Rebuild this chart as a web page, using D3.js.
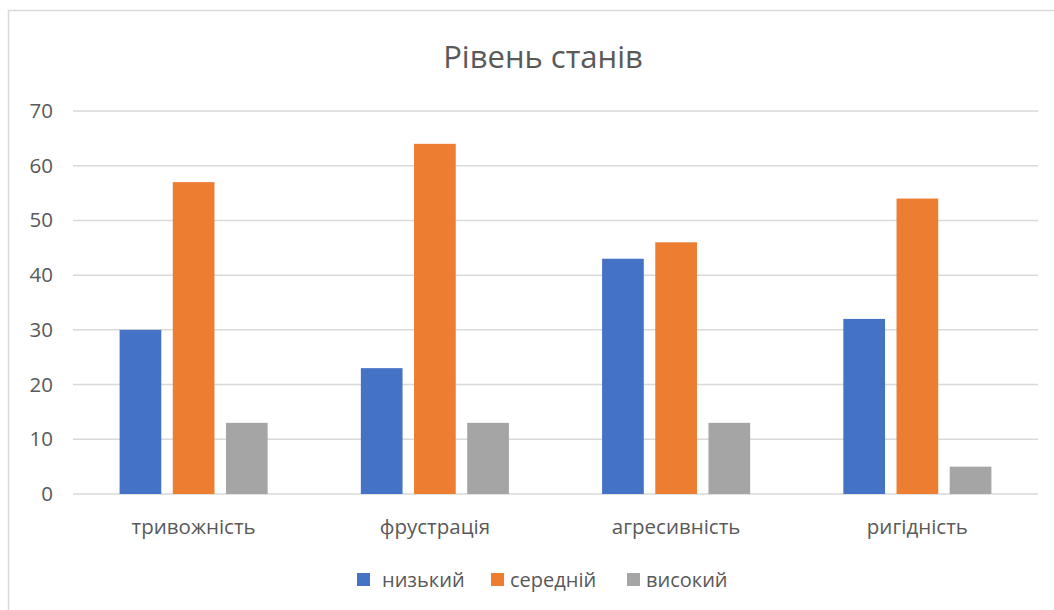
<!DOCTYPE html>
<html>
<head>
<meta charset="utf-8">
<script src="https://cdn.jsdelivr.net/npm/d3@7"></script>
<style>
  html, body { margin: 0; padding: 0; background: #ffffff; }
  svg { display: block; }
  text { font-family: "Open Sans", "Noto Sans", sans-serif; fill: #595959; }
</style>
</head>
<body>
<svg id="chart" width="1054" height="610"></svg>
<script>
// Chart data
const categories = ["тривожність", "фрустрація", "агресивність", "ригідність"];
const seriesNames = ["низький", "середній", "високий"];
const low = [30, 23, 43, 32];
const medium = [57, 64, 46, 54];
const high = [13, 13, 13, 5];
const yTicks = [0, 10, 20, 30, 40, 50, 60, 70];
const title = "Рівень станів";

const seriesValues = [low, medium, high];
const colors = ["#4472C4", "#ED7D31", "#A5A5A5"];

const svg = d3.select("#chart");
const W = 1054, H = 610;
const plot = { left: 73, right: 1038, top: 111, bottom: 494 };

// Outer chart frame
svg.append("path")
  .attr("d", `M8.5,${H} V10.5 H${W}`)
  .attr("fill", "none")
  .attr("stroke", "#d9d9d9")
  .attr("stroke-width", 1.5);

// Title
svg.append("text")
  .attr("x", 543)
  .attr("y", 68)
  .attr("text-anchor", "middle")
  .style("font-size", "31px")
  .text(title);

// Scales
const x0 = d3.scaleBand()
  .domain(categories)
  .range([plot.left, plot.right])
  .paddingInner(0)
  .paddingOuter(0);

const x1 = d3.scaleBand()
  .domain(seriesNames)
  .range([0, x0.bandwidth()])
  .paddingInner(0.216)
  .paddingOuter(0.876);

const y = d3.scaleLinear()
  .domain([0, 70])
  .range([plot.bottom, plot.top]);

// Horizontal gridlines
svg.append("g")
  .selectAll("line")
  .data(yTicks)
  .join("line")
  .attr("x1", plot.left)
  .attr("x2", plot.right)
  .attr("y1", d => y(d))
  .attr("y2", d => y(d))
  .attr("stroke", "#d9d9d9")
  .attr("stroke-width", 1.5);

// Y axis labels
const yAxis = d3.axisLeft(y).tickValues(yTicks).tickSize(0).tickPadding(0);
const yg = svg.append("g")
  .attr("transform", `translate(53,0)`)
  .call(yAxis);
yg.select(".domain").remove();
yg.selectAll("text")
  .style("font-size", "20.5px")
  .attr("fill", "#595959");

// Bars
const groups = svg.append("g")
  .selectAll("g")
  .data(categories)
  .join("g")
  .attr("transform", d => `translate(${x0(d)},0)`);

groups.selectAll("rect")
  .data((c, i) => seriesNames.map((s, k) => ({ s, k, v: seriesValues[k][i] })))
  .join("rect")
  .attr("x", d => x1(d.s))
  .attr("width", x1.bandwidth())
  .attr("y", d => y(d.v))
  .attr("height", d => y(0) - y(d.v))
  .attr("fill", d => colors[d.k]);

// Category axis labels
const xAxis = d3.axisBottom(x0).tickSize(0).tickPadding(0);
const xg = svg.append("g")
  .attr("transform", `translate(0,${plot.bottom})`)
  .call(xAxis);
xg.select(".domain").remove();
xg.selectAll("text")
  .attr("dy", null)
  .attr("y", 40)
  .style("font-size", "20.5px")
  .attr("fill", "#595959");

// Legend
const legendItems = [
  { name: seriesNames[0], color: colors[0], x: 357, tx: 25 },
  { name: seriesNames[1], color: colors[1], x: 491, tx: 19 },
  { name: seriesNames[2], color: colors[2], x: 627, tx: 19 }
];
const legend = svg.append("g");
const li = legend.selectAll("g")
  .data(legendItems)
  .join("g")
  .attr("transform", d => `translate(${d.x},0)`);
li.append("rect")
  .attr("x", 0)
  .attr("y", 573)
  .attr("width", 13)
  .attr("height", 13)
  .attr("fill", d => d.color);
li.append("text")
  .attr("x", d => d.tx)
  .attr("y", 587)
  .style("font-size", "20px")
  .text(d => d.name);
</script>
</body>
</html>
